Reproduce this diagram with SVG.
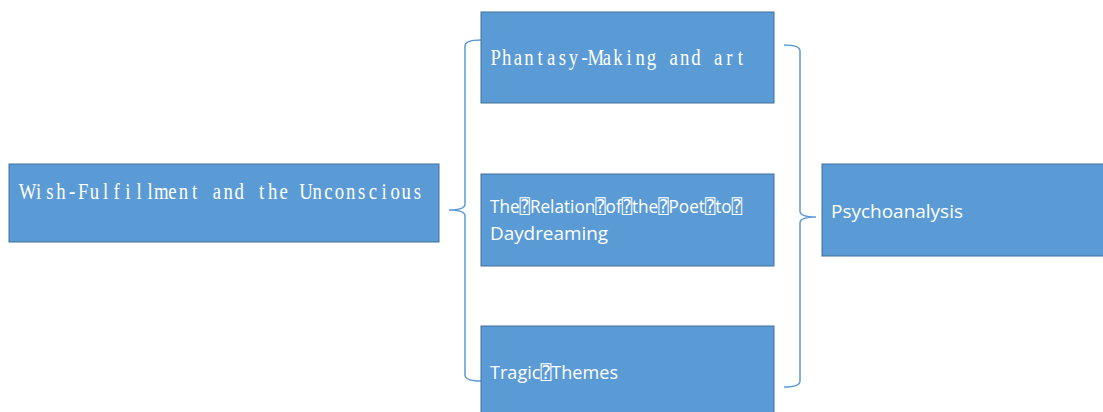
<svg xmlns="http://www.w3.org/2000/svg" width="1103" height="412" viewBox="0 0 1103 412">
<style>
.box{fill:#5B9BD5;stroke:#41719C;stroke-width:1}
.mono{font-family:"Liberation Serif","DejaVu Serif",serif;font-size:24px;fill:#FFFFFF;text-anchor:middle}
.sans{font-family:"Open Sans","Liberation Sans","DejaVu Sans Mono",sans-serif;font-size:19px;fill:#FFFFFF}
.brace{fill:none;stroke:#5B9BD5;stroke-width:1.5}
</style>
<rect width="1103" height="412" fill="#FFFFFF"/>
<g id="connectors">
<path class="brace" d="M481,40 Q465,40 465,46 L465,204 Q465,210 449,210 Q465,210 465,216 L465,375 Q465,381 481,381"/>
<path class="brace" d="M784,45 Q800,45 800,51 L800,211 Q800,217 816,217 Q800,217 800,223 L800,381 Q800,387 784,387"/>
</g>
<g id="node-wish">
<rect class="box" x="9" y="164" width="430" height="78"/>
<text class="mono" transform="scale(0.78,1)" y="199" x="35.4 49.6 63.9 78.2 92.5 106.8 121.0 135.3 149.6 163.9 178.2 192.5 206.7 221.0 235.3 249.6 263.9 278.1 292.4 306.7 321.0 335.3 349.6 363.8 378.1 392.4 406.7 421.0 435.2 449.5 463.8 478.1 492.4 506.7 520.9 535.2">Wish-Fulfillment and the Unconscious</text>
</g>
<g id="node-phantasy">
<rect class="box" x="481" y="12" width="293" height="91"/>
<text class="mono" transform="scale(0.78,1)" y="65" x="635.4 649.6 663.9 678.2 692.4 706.7 721.0 735.2 749.5 763.8 778.0 792.3 806.6 820.8 835.1 849.4 863.7 877.9 892.2 906.5 920.7 935.0 949.3">Phantasy-Making and art</text>
</g>
<g id="node-relation">
<rect class="box" x="481" y="174" width="293" height="92"/>
<text class="sans" x="490" y="213" textLength="252" lengthAdjust="spacingAndGlyphs">The⍰Relation⍰of⍰the⍰Poet⍰to⍰</text>
<text class="sans" x="490" y="240" textLength="118" lengthAdjust="spacingAndGlyphs">Daydreaming</text>
</g>
<g id="node-tragic">
<rect class="box" x="481" y="326" width="293" height="92"/>
<text class="sans" x="490" y="379" textLength="128" lengthAdjust="spacingAndGlyphs">Tragic⍰Themes</text>
</g>
<g id="node-psycho">
<rect class="box" x="822" y="164" width="290" height="92"/>
<text class="sans" x="831" y="218" textLength="132" lengthAdjust="spacingAndGlyphs">Psychoanalysis</text>
</g>
</svg>
